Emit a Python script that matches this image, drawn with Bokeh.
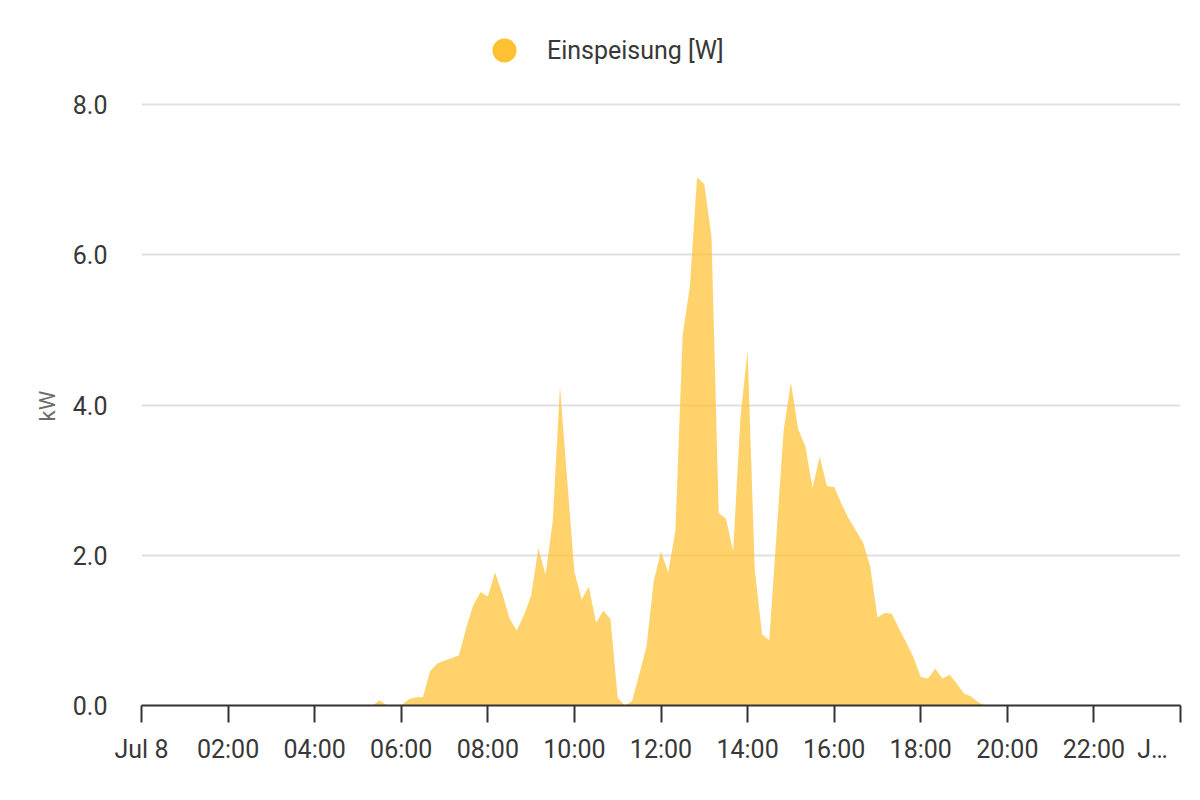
from bokeh.plotting import figure
from bokeh.models import (Range1d, FixedTicker, NumeralTickFormatter, ColumnDataSource,
                          Legend, LegendItem)
from bokeh.embed import file_html
from bokeh.resources import INLINE

# ---- data (Jul 8, 10-minute samples, kW) ----
times = ["05:20", "05:30", "05:40", "05:50", "06:00", "06:10", "06:20", "06:30", "06:40", "06:50",
         "07:00", "07:10", "07:20", "07:30", "07:40", "07:50", "08:00", "08:10", "08:20", "08:30",
         "08:40", "08:50", "09:00", "09:10", "09:20", "09:30", "09:40", "09:50", "10:00", "10:10",
         "10:20", "10:30", "10:40", "10:50", "11:00", "11:10", "11:20", "11:30", "11:40", "11:50",
         "12:00", "12:10", "12:20", "12:30", "12:40", "12:50", "13:00", "13:10", "13:20", "13:30",
         "13:40", "13:50", "14:00", "14:10", "14:20", "14:30", "14:40", "14:50", "15:00", "15:10",
         "15:20", "15:30", "15:40", "15:50", "16:00", "16:10", "16:20", "16:30", "16:40", "16:50",
         "17:00", "17:10", "17:20", "17:30", "17:40", "17:50", "18:00", "18:10", "18:20", "18:30",
         "18:40", "18:50", "19:00", "19:10", "19:20", "19:30"]
einspeisung = [0.0, 0.07, 0.0, 0.0, 0.0, 0.08, 0.11, 0.11, 0.46, 0.56,
               0.60, 0.63, 0.67, 1.03, 1.34, 1.51, 1.45, 1.77, 1.49, 1.16,
               1.00, 1.20, 1.46, 2.09, 1.74, 2.46, 4.25, 3.00, 1.78, 1.41,
               1.58, 1.10, 1.26, 1.15, 0.10, 0.00, 0.06, 0.42, 0.79, 1.66,
               2.05, 1.77, 2.33, 4.93, 5.58, 7.03, 6.94, 6.24, 2.56, 2.49,
               2.05, 3.82, 4.73, 1.80, 0.95, 0.87, 2.27, 3.66, 4.30, 3.68,
               3.45, 2.90, 3.31, 2.92, 2.91, 2.69, 2.49, 2.33, 2.17, 1.85,
               1.17, 1.23, 1.22, 1.02, 0.84, 0.64, 0.38, 0.36, 0.49, 0.36,
               0.41, 0.29, 0.16, 0.12, 0.04, 0.00]
x_ticks = [0, 2, 4, 6, 8, 10, 12, 14, 16, 18, 20, 22, 24]
x_tick_labels = ["Jul 8", "02:00", "04:00", "06:00", "08:00", "10:00", "12:00",
                 "14:00", "16:00", "18:00", "20:00", "22:00", "J\u2026" + "\u00a0" * 4]
y_ticks = [0, 2, 4, 6, 8]
series_name = "Einspeisung [W]"
y_label = "kW"

COLOR = "#ffc132"
TEXT = "#383838"
FONT = "Roboto"

hours = [int(t[:2]) + int(t[3:]) / 60 for t in times]
src = ColumnDataSource(dict(x=hours, y=einspeisung, z=[0.0] * len(hours)))

# frame runs from the top of the page (legend area) down to the 0 line;
# the 0..8 kW span occupies the lower 601 px of the frame.
Y_MAX = 8.0
Y_TOP = Y_MAX + 96 * Y_MAX / 601

p = figure(width=1192, height=792, x_range=Range1d(0, 24), y_range=Range1d(0, Y_TOP),
           output_backend="svg", toolbar_location=None,
           min_border_left=141, min_border_right=12, min_border_top=8, min_border_bottom=87)
p.outline_line_color = None
p.background_fill_color = "white"

p.varea(x="x", y1="z", y2="y", source=src, fill_color=COLOR, fill_alpha=0.72)

# legend swatch renderer (its single point lies outside the visible x range)
r_leg = p.scatter(x=[-5], y=[0], marker="circle", size=24, fill_color=COLOR, line_color=None)
legend = Legend(items=[LegendItem(label=series_name, renderers=[r_leg])],
                location=(333, 625), orientation="horizontal",
                glyph_width=60, glyph_height=60, label_standoff=13,
                padding=0, margin=0, border_line_color=None, background_fill_alpha=0,
                label_text_font=FONT, label_text_font_size="25px", label_text_color=TEXT)
p.add_layout(legend, "center")

p.xgrid.visible = False
p.ygrid.grid_line_color = "#e0e0e0"
p.ygrid.grid_line_width = 2
p.ygrid.ticker = FixedTicker(ticks=y_ticks)

xa = p.xaxis[0]
xa.ticker = FixedTicker(ticks=x_ticks)
xa.major_label_overrides = {t: l for t, l in zip(x_ticks, x_tick_labels)}
xa.axis_line_color = "#333333"
xa.axis_line_width = 2
xa.major_tick_line_color = "#333333"
xa.major_tick_line_width = 2
xa.major_tick_in = 0
xa.major_tick_out = 17
xa.minor_tick_line_color = None
xa.major_label_standoff = 12
xa.major_label_text_font = FONT
xa.major_label_text_font_size = "25px"
xa.major_label_text_color = TEXT

ya = p.yaxis[0]
ya.ticker = FixedTicker(ticks=y_ticks)
ya.formatter = NumeralTickFormatter(format="0.0")
ya.axis_line_color = None
ya.major_tick_line_color = None
ya.minor_tick_line_color = None
ya.major_label_standoff = 28
ya.major_label_text_font = FONT
ya.major_label_text_font_size = "25px"
ya.major_label_text_color = TEXT
ya.axis_label = y_label + "\u00a0" * 18
ya.axis_label_text_font = FONT
ya.axis_label_text_font_size = "22px"
ya.axis_label_text_font_style = "normal"
ya.axis_label_text_color = "#6b6b6b"
ya.axis_label_standoff = 10

open("out.html", "w").write(file_html(p, INLINE))
